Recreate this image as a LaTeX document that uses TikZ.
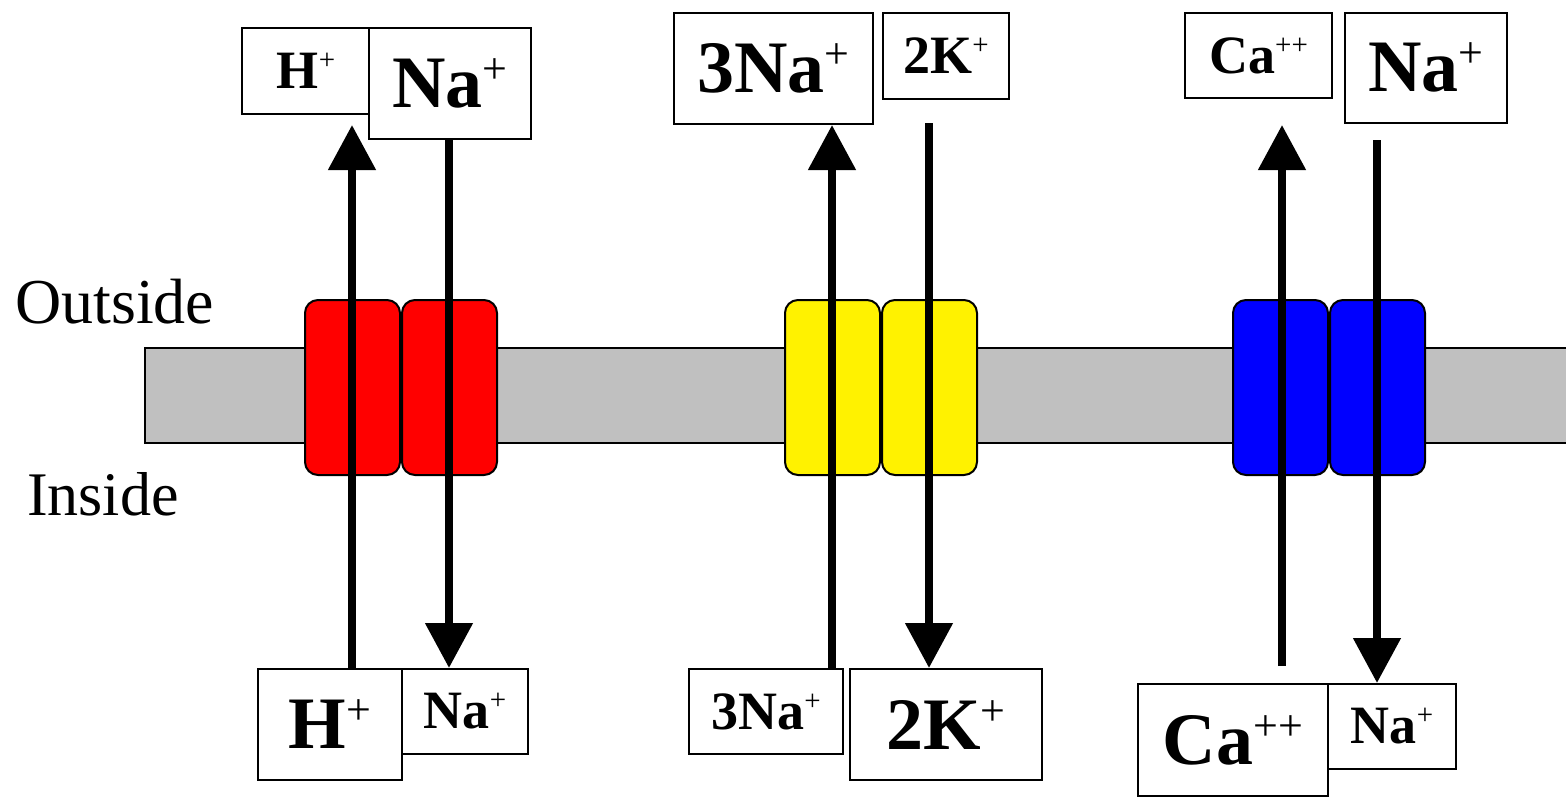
\documentclass[tikz,border=0pt]{standalone}
\usepackage{fontspec}
\setmainfont{Liberation Serif}
\usetikzlibrary{arrows.meta}
\definecolor{memgray}{RGB}{192,192,192}
\newcommand\ionL[2]{{\fontsize{74}{74}\selectfont\bfseries #1\raisebox{24pt}[0pt][0pt]{\fontsize{44}{44}\selectfont\mdseries #2}}}
\newcommand\ionS[2]{{\fontsize{54}{54}\selectfont\bfseries #1\raisebox{19pt}[0pt][0pt]{\fontsize{29}{29}\selectfont\mdseries #2}}}
\tikzset{
  ionbox/.style={draw, line width=2pt, fill=white, inner sep=0pt, anchor=north west, align=center},
  channel/.style={draw, line width=2pt, rounded corners=13pt},
  flux/.style={line width=8pt, -{Triangle[width=46pt,length=45pt]}},
  sidelabel/.style={anchor=base west, inner sep=0pt}
}
\begin{document}
\begin{tikzpicture}[x=1pt,y=-1pt]
\useasboundingbox (0,0) rectangle (1566,800);
% membrane
\draw[line width=2pt, fill=memgray] (145,348) rectangle (1580,443);
% channels
\draw[channel, fill=red] (305,300) rectangle (400,475);
\draw[channel, fill=red] (402,300) rectangle (497,475);
\draw[channel, fill=yellow] (785,300) rectangle (880,475);
\draw[channel, fill=yellow] (882,300) rectangle (977,475);
\draw[channel, fill=blue] (1233,300) rectangle (1328,475);
\draw[channel, fill=blue] (1330,300) rectangle (1425,475);
% side labels
\node[sidelabel, font=\fontsize{64}{64}\selectfont] (outside) at (15,323) {Outside};
\node[sidelabel, font=\fontsize{62}{62}\selectfont] (inside) at (27,515) {Inside};
% red exchanger boxes
\node[ionbox, minimum width=128pt, minimum height=86pt] (rTH) at (241,27) {\ionS{H}{+}};
\node[ionbox, minimum width=162pt, minimum height=111pt] (rTN) at (368,27) {\ionL{Na}{+}};
\node[ionbox, minimum width=144pt, minimum height=111pt] (rBH) at (257,668) {\ionL{H}{+}};
\node[ionbox, minimum width=126pt, minimum height=85pt] (rBN) at (401,668) {\ionS{Na}{+}};
% yellow pump boxes
\node[ionbox, minimum width=199pt, minimum height=111pt] (yTN) at (673,12) {\ionL{3Na}{+}};
\node[ionbox, minimum width=126pt, minimum height=86pt] (yTK) at (882,12) {\ionS{2K}{+}};
\node[ionbox, minimum width=154pt, minimum height=85pt] (yBN) at (688,668) {\ionS{3Na}{+}};
\node[ionbox, minimum width=192pt, minimum height=111pt] (yBK) at (849,668) {\ionL{2K}{+}};
% blue exchanger boxes
\node[ionbox, minimum width=147pt, minimum height=85pt] (bTC) at (1184,12) {\ionS{Ca}{++}};
\node[ionbox, minimum width=162pt, minimum height=110pt] (bTN) at (1344,12) {\ionL{Na}{+}};
\node[ionbox, minimum width=190pt, minimum height=112pt] (bBC) at (1137,683) {\ionL{Ca}{++}};
\node[ionbox, minimum width=128pt, minimum height=85pt] (bBN) at (1327,683) {\ionS{Na}{+}};
% arrows
\coordinate (rUp) at (352,125);
\coordinate (rDx) at (449,0);
\coordinate (yUp) at (832,125);
\coordinate (yDs) at (929,123);
\coordinate (bUs) at (1282,666);
\coordinate (bUe) at (1282,125);
\coordinate (bDs) at (1377,140);
\draw[flux] (rBH.north -| rUp) -- (rUp);
\draw[flux] (rTN.south -| rDx) -- (rBN.north -| rDx);
\draw[flux] (yBN.north -| yUp) -- (yUp);
\draw[flux] (yDs) -- (yBK.north -| yDs);
\draw[flux] (bUs) -- (bUe);
\draw[flux] (bDs) -- (bBN.north -| bDs);
\end{tikzpicture}
\end{document}
